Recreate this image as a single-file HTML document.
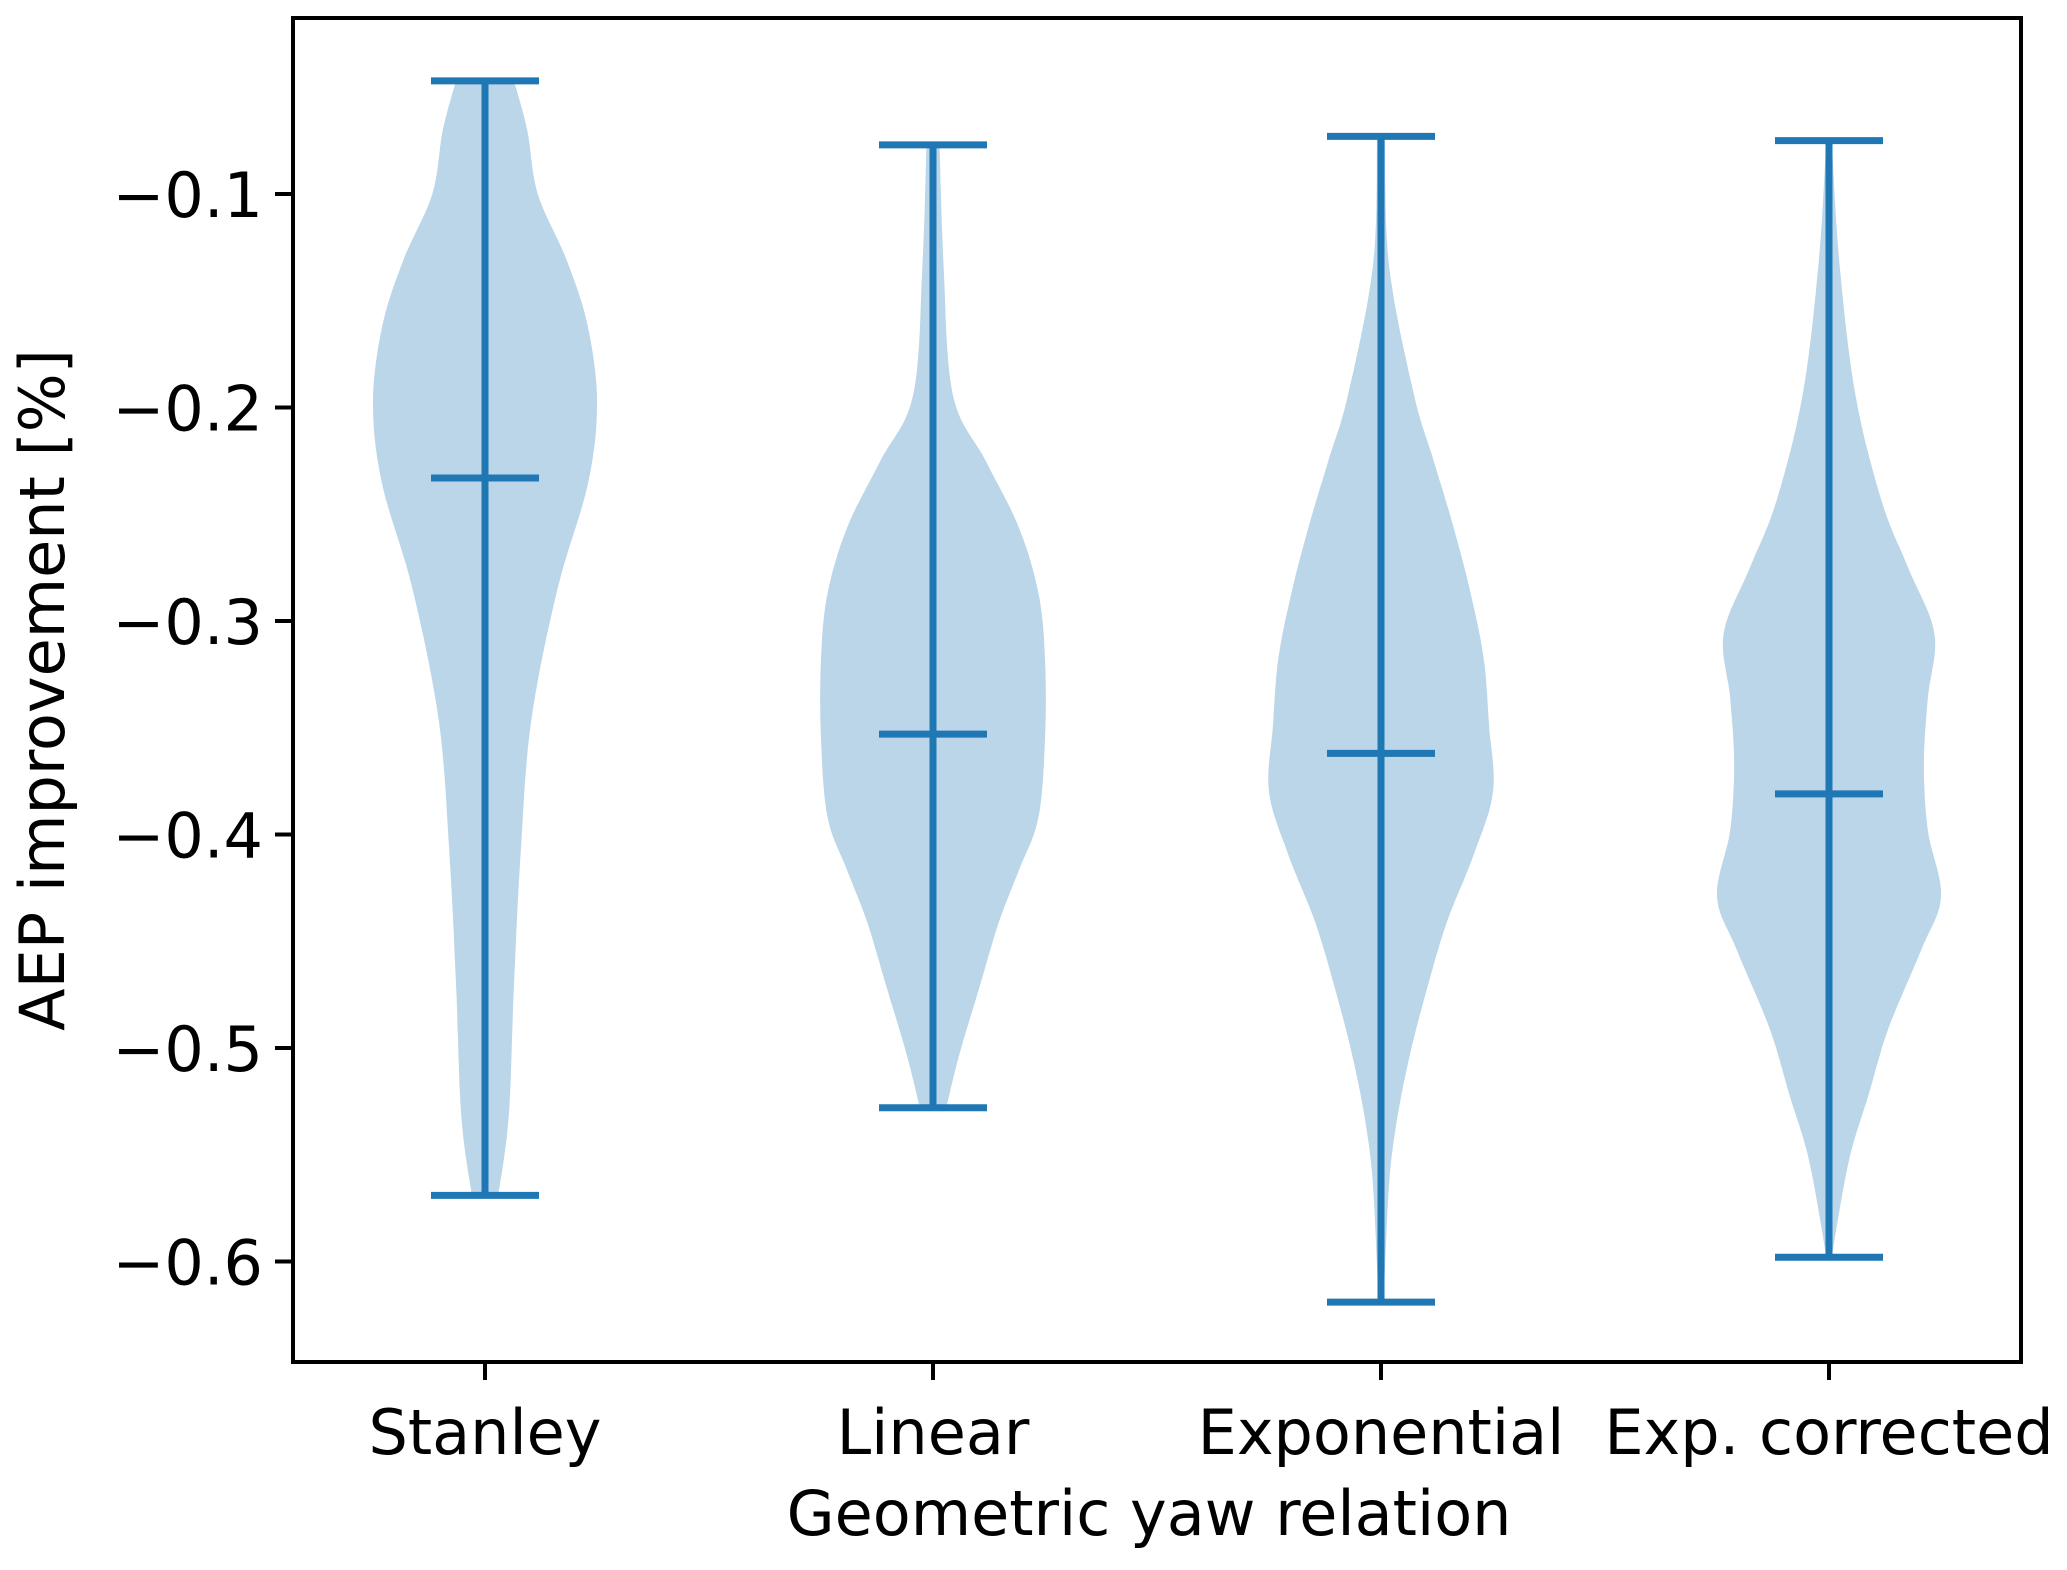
<!DOCTYPE html>
<html><head><meta charset="utf-8"><style>
html,body{margin:0;padding:0;background:#fff;}
svg{display:block;font-family:"DejaVu Sans","Liberation Sans",sans-serif;}
</style></head><body>
<svg id="chart" width="2067" height="1570" viewBox="0 0 2067 1570" xmlns="http://www.w3.org/2000/svg">
<g id="violins"></g>
<g id="axes"></g>
</svg>
<script>
const categories = ["Stanley","Linear","Exponential","Exp. corrected"];
const maxVals = [-0.047,-0.077,-0.073,-0.075];
const minVals = [-0.569,-0.528,-0.619,-0.598];
const meanVals = [-0.233,-0.353,-0.362,-0.381];
const yTicks = [-0.1,-0.2,-0.3,-0.4,-0.5,-0.6];
const yTickLabels = ["\u22120.1","\u22120.2","\u22120.3","\u22120.4","\u22120.5","\u22120.6"];
// density profiles: [value, relative half-width]
const profStanley = [[-0.047,22],[-0.070,32],[-0.100,40],[-0.131,62],[-0.162,78],[-0.198,85],[-0.236,78],[-0.285,55],[-0.347,35],[-0.409,27],[-0.470,22],[-0.532,18],[-0.569,10]];
const profLinear = [[-0.077,5],[-0.133,8],[-0.194,15],[-0.225,40],[-0.256,65],[-0.287,80],[-0.318,85],[-0.355,85],[-0.392,80],[-0.417,65],[-0.441,50],[-0.472,35],[-0.503,20],[-0.528,10]];
const profExp = [[-0.073,3],[-0.133,6],[-0.194,25],[-0.225,40],[-0.256,55],[-0.287,68],[-0.318,78],[-0.349,82],[-0.380,85],[-0.410,70],[-0.441,50],[-0.472,35],[-0.503,22],[-0.534,12],[-0.565,6],[-0.619,2]];
const profExpCorr = [[-0.075,2],[-0.133,8],[-0.194,20],[-0.244,40],[-0.275,60],[-0.306,80],[-0.336,75],[-0.367,72],[-0.398,75],[-0.429,85],[-0.454,70],[-0.491,45],[-0.522,30],[-0.553,15],[-0.598,2]];
const profiles = [profStanley, profLinear, profExp, profExpCorr];

const NS = "http://www.w3.org/2000/svg";
const L = 293, R = 2021, T = 18, B = 1362;
function yScale(v){ return 194 + (-0.1 - v) * 2135; }
function xScale(i){ return 485 + i * 448; }
const wScale = 1.318;
const blue = "#1f77b4";
const FS = 62;

function mk(tag, attrs, parent){
  const e = document.createElementNS(NS, tag);
  for (const k in attrs) e.setAttribute(k, attrs[k]);
  parent.appendChild(e);
  return e;
}
function smoothPts(pts){
  // Catmull-Rom densification
  const out = [];
  for (let i = 0; i < pts.length - 1; i++){
    const p0 = pts[Math.max(0,i-1)], p1 = pts[i], p2 = pts[i+1], p3 = pts[Math.min(pts.length-1,i+2)];
    for (let t = 0; t < 1; t += 0.1){
      const t2=t*t, t3=t2*t;
      const f = (a,b,c,d)=>0.5*((2*b)+(-a+c)*t+(2*a-5*b+4*c-d)*t2+(-a+3*b-3*c+d)*t3);
      out.push([f(p0[0],p1[0],p2[0],p3[0]), Math.max(0,f(p0[1],p1[1],p2[1],p3[1]))]);
    }
  }
  out.push(pts[pts.length-1]);
  return out;
}
const gV = document.getElementById("violins");
const gA = document.getElementById("axes");

categories.forEach((c, i) => {
  const cx = xScale(i);
  const p = smoothPts(profiles[i]);
  let d = "";
  p.forEach((pt, j) => { d += (j ? "L" : "M") + (cx - pt[1]*wScale).toFixed(1) + "," + yScale(pt[0]).toFixed(1); });
  for (let j = p.length - 1; j >= 0; j--) d += "L" + (cx + p[j][1]*wScale).toFixed(1) + "," + yScale(p[j][0]).toFixed(1);
  d += "Z";
  const body = mk("path", {d: d, fill: "#bbd6e8", stroke: "none"}, gV);
  
  
  const stem = mk("line", {x1: cx, x2: cx, y1: yScale(maxVals[i]), y2: yScale(minVals[i]), stroke: blue, "stroke-width": 7}, gV);
  
  
  [maxVals[i], minVals[i], meanVals[i]].forEach((v, k) => {
    const cap = mk("line", {x1: cx - 54, x2: cx + 54, y1: yScale(v), y2: yScale(v), stroke: blue, "stroke-width": 7}, gV);
    
    
  });
  const tk = mk("line", {x1: cx, x2: cx, y1: B, y2: B + 18, stroke: "#000", "stroke-width": 4}, gA);
  
  
  const lb = mk("text", {x: cx, y: 1454, "text-anchor": "middle", "font-size": FS, fill: "#000"}, gA);
  lb.textContent = c;
  
  
});

yTicks.forEach((v, i) => {
  const y = yScale(v);
  const tk = mk("line", {x1: L - 18, x2: L, y1: y, y2: y, stroke: "#000", "stroke-width": 4}, gA);
  
  
  const lb = mk("text", {x: L - 30, y: y + 23, "text-anchor": "end", "font-size": FS, fill: "#000"}, gA);
  lb.textContent = yTickLabels[i];
  
  
});

const frame = mk("rect", {x: L, y: T, width: R - L, height: B - T, fill: "none", stroke: "#000", "stroke-width": 4}, gA);



const xt = mk("text", {x: (L + R)/2 - 8, y: 1535, "text-anchor": "middle", "font-size": FS, fill: "#000"}, gA);
xt.textContent = "Geometric yaw relation";



const yt = mk("text", {x: 0, y: 0, "text-anchor": "middle", "font-size": FS, fill: "#000", transform: "translate(64," + ((T + B)/2) + ") rotate(-90)"}, gA);
yt.textContent = "AEP improvement [%]";


</script>
</body></html>
